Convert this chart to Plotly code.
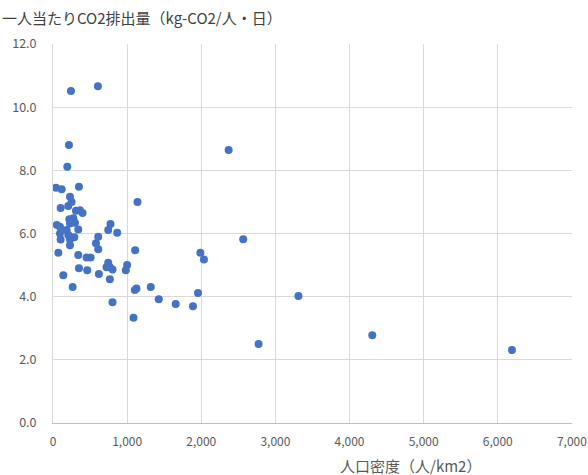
import plotly.graph_objects as go

density = [193, 40, 117, 350, 229, 251, 103, 206, 310, 363, 399, 1140,
           50, 94, 220, 274, 296, 229, 341, 776, 745, 866, 184, 94, 103,
           206, 287, 229, 229, 610, 579, 610, 72, 341, 453, 507, 1108, 745,
           722, 767, 803, 350, 462, 1000, 982, 139, 619, 767, 265, 1104, 1126,
           1319, 1427, 803, 1956, 1655, 1888, 1086, 2566, 1988, 2036,
           242, 606, 215, 2369, 3311, 4307, 2773, 6191]
co2 = [8.11, 7.45, 7.40, 7.48, 7.16, 7.00, 6.81, 6.87, 6.72, 6.74, 6.65, 7.00,
       6.27, 6.21, 6.45, 6.48, 6.34, 6.32, 6.13, 6.30, 6.11, 6.02, 6.11, 6.00, 5.81,
       5.95, 5.88, 5.81, 5.63, 5.90, 5.69, 5.50, 5.39, 5.32, 5.24, 5.24, 5.47, 5.07,
       4.93, 4.93, 4.86, 4.90, 4.84, 5.00, 4.84, 4.68, 4.72, 4.55, 4.31, 4.21, 4.26,
       4.31, 3.92, 3.82, 4.12, 3.77, 3.70, 3.33, 5.82, 5.39, 5.18,
       10.51, 10.66, 8.80, 8.64, 4.02, 2.78, 2.50, 2.31]

x_ticks = [0, 1000, 2000, 3000, 4000, 5000, 6000, 7000]
y_ticks = [0, 2, 4, 6, 8, 10, 12]

FONT = "Noto Sans CJK JP"

fig = go.Figure(go.Scatter(
    x=density, y=co2, mode="markers",
    marker=dict(color="#4472C4", size=8, line=dict(width=0)),
    hoverinfo="x+y",
))

fig.update_layout(
    width=588, height=475,
    margin=dict(l=53, r=16, t=44, b=52),
    paper_bgcolor="white", plot_bgcolor="white",
    font=dict(family=FONT, color="#595959", size=12),
    showlegend=False,
    xaxis=dict(range=[0, 7001], tickvals=x_ticks, tickformat=",d",
               showgrid=True, gridcolor="#d9d9d9", gridwidth=1,
               showline=True, linecolor="#bfbfbf", linewidth=1,
               zeroline=False, ticks="", ticklen=0, ticklabelstandoff=8,
               ticklabeloverflow="allow", automargin=False,
               tickfont=dict(size=12, color="#595959")),
    yaxis=dict(range=[0, 12], tickvals=y_ticks, tickformat=".1f",
               showgrid=True, gridcolor="#d9d9d9", gridwidth=1,
               showline=True, linecolor="#d9d9d9", linewidth=1,
               zeroline=False, ticks="", ticklen=0, ticklabelstandoff=13,
               automargin=False,
               tickfont=dict(size=12.5, color="#595959")),
    annotations=[
        dict(text="一人当たりCO2排出量（kg-CO2/人・日）", xref="paper", yref="paper",
             x=-53/519, y=1 + 26/379, xanchor="left", yanchor="middle",
             showarrow=False, font=dict(size=15, color="#404040", family=FONT)),
        dict(text="人口密度（人/km2）", xref="paper", yref="paper",
             x=(410 - 53)/519, y=-42/379, xanchor="center", yanchor="middle",
             showarrow=False, font=dict(size=15, color="#595959", family=FONT)),
    ],
)

fig.write_html("out.html")
